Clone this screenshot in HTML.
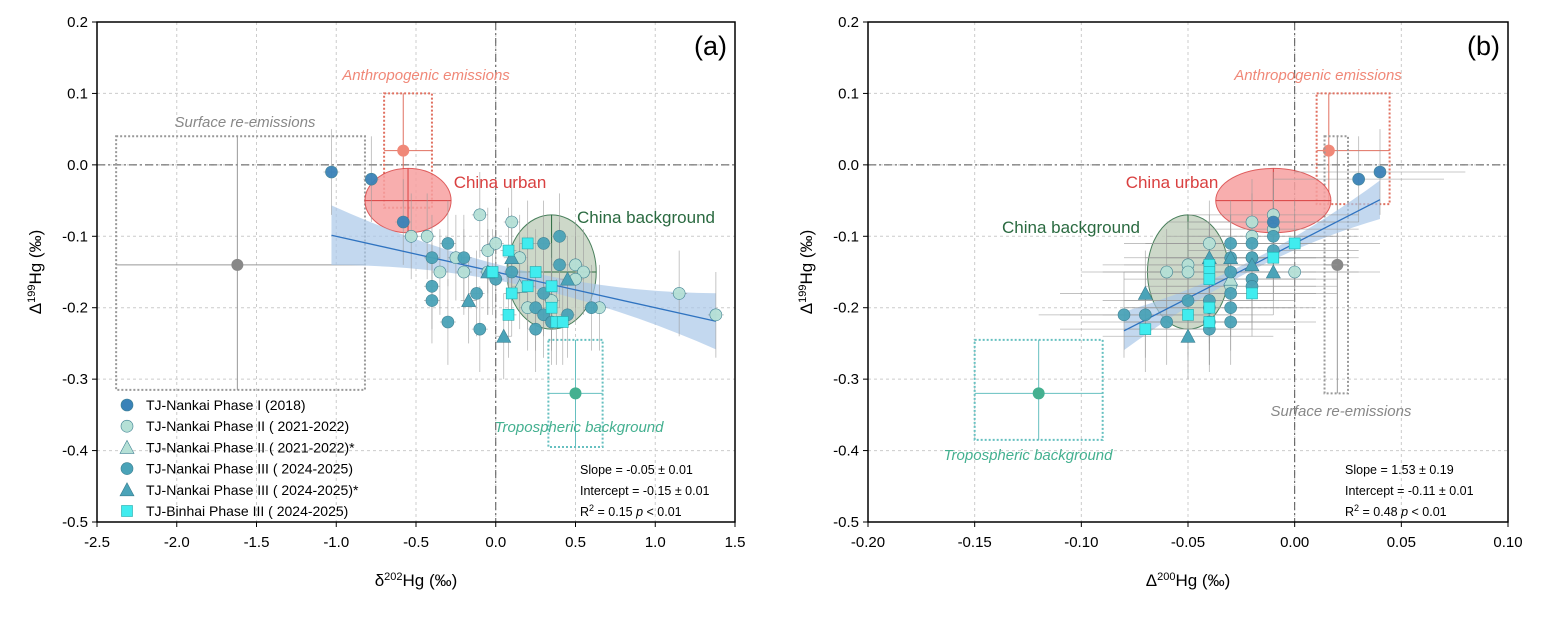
<!DOCTYPE html>
<html><head><meta charset="utf-8"><style>
body{margin:0;background:#fff;}
svg text{font-family:"Liberation Sans",sans-serif;}
</style></head><body>
<svg id="c" width="1544" height="616" xmlns="http://www.w3.org/2000/svg"></svg>
<script>
// ---- Panel (a) data: delta202Hg vs Delta199Hg ----
const aPhase1 = [[-1.03,-0.01],[-0.78,-0.02],[-0.58,-0.08]];
const aPhase2 = [[-0.53,-0.10],[-0.43,-0.10],[-0.10,-0.07],[0.10,-0.08],[-0.35,-0.15],[-0.20,-0.15],[0.15,-0.13],[0.50,-0.14],[0.55,-0.15],[0.50,-0.16],[1.15,-0.18],[1.38,-0.21],[0.65,-0.20],[0.20,-0.20],[0.35,-0.19],[-0.05,-0.12],[0.00,-0.11],[-0.05,-0.15],[-0.25,-0.13]];
const aPhase2T = [[0.15,-0.17]];
const aPhase3 = [[-0.40,-0.13],[-0.30,-0.11],[-0.40,-0.17],[-0.40,-0.19],[-0.30,-0.22],[-0.20,-0.13],[-0.12,-0.18],[-0.10,-0.23],[0.25,-0.20],[0.25,-0.23],[0.30,-0.21],[0.35,-0.22],[0.45,-0.21],[0.40,-0.10],[0.30,-0.11],[0.40,-0.14],[0.60,-0.20],[0.30,-0.18],[0.10,-0.15],[0.00,-0.16]];
const aPhase3T = [[-0.17,-0.19],[0.05,-0.24],[0.45,-0.16],[0.10,-0.13],[-0.05,-0.15]];
const aBinhai = [[0.20,-0.11],[0.08,-0.12],[-0.02,-0.15],[0.25,-0.15],[0.35,-0.17],[0.10,-0.18],[0.35,-0.20],[0.08,-0.21],[0.38,-0.22],[0.42,-0.22],[0.20,-0.17]];
const aFit = [-0.05,-0.15]; const aFitRange=[-1.03,1.38];
const aXTicks=[-2.5,-2.0,-1.5,-1.0,-0.5,0.0,0.5,1.0,1.5];
// ---- Panel (b) data: Delta200Hg vs Delta199Hg ----
const bPhase1 = [[0.04,-0.01],[0.03,-0.02],[-0.01,-0.08]];
const bPhase2 = [[-0.06,-0.15],[-0.05,-0.14],[-0.05,-0.15],[-0.04,-0.11],[-0.02,-0.08],[-0.01,-0.07],[-0.01,-0.09],[0.00,-0.15],[-0.02,-0.10],[-0.03,-0.17],[-0.04,-0.20],[-0.02,-0.13]];
const bPhase2T = [[-0.03,-0.16]];
const bPhase3 = [[-0.08,-0.21],[-0.07,-0.21],[-0.06,-0.22],[-0.05,-0.19],[-0.04,-0.19],[-0.04,-0.23],[-0.03,-0.11],[-0.03,-0.13],[-0.03,-0.15],[-0.03,-0.18],[-0.03,-0.20],[-0.03,-0.22],[-0.02,-0.11],[-0.02,-0.13],[-0.02,-0.16],[-0.02,-0.17],[-0.01,-0.10],[-0.01,-0.12],[-0.04,-0.22]];
const bPhase3T = [[-0.07,-0.18],[-0.05,-0.24],[-0.04,-0.13],[-0.02,-0.14],[-0.01,-0.15],[-0.03,-0.13]];
const bBinhai = [[-0.07,-0.23],[-0.05,-0.21],[-0.04,-0.14],[-0.04,-0.15],[-0.04,-0.16],[-0.04,-0.20],[-0.04,-0.22],[-0.02,-0.18],[-0.01,-0.13],[0.00,-0.11]];
const bFit=[1.53,-0.11]; const bFitRange=[-0.08,0.04];
const bXTicks=[-0.20,-0.15,-0.10,-0.05,0.00,0.05,0.10];
const yTicks=[0.2,0.1,0.0,-0.1,-0.2,-0.3,-0.4,-0.5];

const NS="http://www.w3.org/2000/svg";
const svg=document.getElementById('c');
function el(tag,attrs,parent,text){const e=document.createElementNS(NS,tag);for(const k in attrs)e.setAttribute(k,attrs[k]);if(text!==undefined)e.textContent=text;(parent||svg).appendChild(e);return e;}
const Y0=22,Y1=522,YMAX=0.2,YMIN=-0.5;
function ys(v){return Y0+(YMAX-v)/(YMAX-YMIN)*(Y1-Y0);}
const C1='#3a82b8',C2='#b5e0d6',C3='#4aa3b8',C4='#40ecef';

function panel(cfg){
  const xs=v=>cfg.x0+(v-cfg.xmin)/(cfg.xmax-cfg.xmin)*(cfg.x1-cfg.x0);
  const g=el('g',{});
  
  
  cfg.xt.forEach(t=>{el('line',{x1:xs(t),x2:xs(t),y1:Y0,y2:Y1,stroke:'#ccc','stroke-dasharray':'3,3'},g);});
  yTicks.forEach(t=>{el('line',{x1:cfg.x0,x2:cfg.x1,y1:ys(t),y2:ys(t),stroke:'#ccc','stroke-dasharray':'3,3'},g);});
  el('line',{x1:cfg.x0,x2:cfg.x1,y1:ys(0),y2:ys(0),stroke:'#555','stroke-dasharray':'8,3,2,3'},g);
  el('line',{x1:xs(0),x2:xs(0),y1:Y0,y2:Y1,stroke:'#555','stroke-dasharray':'8,3,2,3'},g);
  cfg.boxes.forEach(b=>{
    const r=el('rect',{x:xs(b.x[0]),y:ys(b.y[1]),width:xs(b.x[1])-xs(b.x[0]),height:ys(b.y[0])-ys(b.y[1]),fill:'none',stroke:b.c,'stroke-width':2,'stroke-dasharray':'2,2'},g);
    
    
    el('line',{x1:xs(b.x[0]),x2:xs(b.x[1]),y1:ys(b.p[1]),y2:ys(b.p[1]),stroke:b.c,'stroke-width':1},g);
    el('line',{x1:xs(b.p[0]),x2:xs(b.p[0]),y1:ys(b.y[0]),y2:ys(b.y[1]),stroke:b.c,'stroke-width':1},g);
    const c=el('circle',{cx:xs(b.p[0]),cy:ys(b.p[1]),r:6,fill:b.f},g);
    
    
    const t=el('text',{x:b.tx,y:b.ty,fill:b.f,'font-size':15,'font-style':'italic','text-anchor':'middle'},g,b.label);
    
    
  });
  cfg.ells.forEach(e=>{
    const rx=xs(e.c[0]+e.r[0])-xs(e.c[0]), ry=ys(e.c[1]-e.r[1])-ys(e.c[1]);
    const E=el('ellipse',{cx:xs(e.c[0]),cy:ys(e.c[1]),rx:rx,ry:ry,fill:e.f,stroke:e.s,'stroke-width':1,opacity:0.85},g);
    
    
    el('line',{x1:xs(e.c[0])-rx,x2:xs(e.c[0])+rx,y1:ys(e.c[1]),y2:ys(e.c[1]),stroke:e.s},g);
    el('line',{x1:xs(e.c[0]),x2:xs(e.c[0]),y1:ys(e.c[1])-ry,y2:ys(e.c[1])+ry,stroke:e.s},g);
    const t=el('text',{x:e.tx,y:e.ty,fill:e.s,'font-size':17,'text-anchor':'middle'},g,e.label);
    
    
  });
  const [m,b]=cfg.fit,[a0,a1]=cfg.fr,w=(a1-a0);
  const pts=[];
  for(let i=0;i<=20;i++){const x=a0+w*i/20;const d=cfg.bw*(0.35+Math.pow((x-cfg.mid)/(w/2),2));pts.push([xs(x),ys(m*x+b+d)]);}
  for(let i=20;i>=0;i--){const x=a0+w*i/20;const d=cfg.bw*(0.35+Math.pow((x-cfg.mid)/(w/2),2));pts.push([xs(x),ys(m*x+b-d)]);}
  const band=el('polygon',{points:pts.map(p=>p.join(',')).join(' '),fill:'#a9c8e8',opacity:0.7},g);
  
  
  const series=[[cfg.s2,C2,'c','phase2'],[cfg.s2t,C2,'t','phase2-tri'],[cfg.s3,C3,'c','phase3'],[cfg.s3t,C3,'t','phase3-tri'],[cfg.s4,C4,'s','binhai'],[cfg.s1,C1,'c','phase1']];
  series.forEach(([arr])=>arr.forEach(p=>{
    el('line',{x1:xs(p[0]-cfg.ex),x2:xs(p[0]+cfg.ex),y1:ys(p[1]),y2:ys(p[1]),stroke:'#999','stroke-width':0.8,opacity:0.7},g);
    el('line',{x1:xs(p[0]),x2:xs(p[0]),y1:ys(p[1]-0.06),y2:ys(p[1]+0.06),stroke:'#999','stroke-width':0.8,opacity:0.7},g);
  }));
  const fl=el('line',{x1:xs(a0),y1:ys(m*a0+b),x2:xs(a1),y2:ys(m*a1+b),stroke:'#2f73c0','stroke-width':1.3},g);
  
  
  series.forEach(([arr,col,sh,nm])=>arr.forEach(p=>{
    const X=xs(p[0]),Yv=ys(p[1]);let mk;
    if(sh==='c')mk=el('circle',{cx:X,cy:Yv,r:6,fill:col,stroke:'#3b7f90','stroke-width':0.6,opacity:0.95},g);
    else if(sh==='t')mk=el('polygon',{points:`${X},${Yv-7} ${X-7},${Yv+6} ${X+7},${Yv+6}`,fill:col,stroke:'#3b7f90','stroke-width':0.6},g);
    else mk=el('rect',{x:X-5.5,y:Yv-5.5,width:11,height:11,fill:col,stroke:'#2aa',"stroke-width":0.6},g);
    
    
  }));
  el('rect',{x:cfg.x0,y:Y0,width:cfg.x1-cfg.x0,height:Y1-Y0,fill:'none',stroke:'#000','stroke-width':1.5},g);
  cfg.xt.forEach(t=>{el('line',{x1:xs(t),x2:xs(t),y1:Y1,y2:Y1+5,stroke:'#000'},g);
    const tl=el('text',{x:xs(t),y:Y1+25,'font-size':15,'text-anchor':'middle'},g,t.toFixed(cfg.dec));
    
    });
  yTicks.forEach(t=>{el('line',{x1:cfg.x0-5,x2:cfg.x0,y1:ys(t),y2:ys(t),stroke:'#000'},g);
    const tl=el('text',{x:cfg.x0-9,y:ys(t)+5,'font-size':15,'text-anchor':'end'},g,t.toFixed(1));
    
    });
  const xt=el('text',{x:(cfg.x0+cfg.x1)/2,y:586,'font-size':17,'text-anchor':'middle'},g);
  
  
  xt.innerHTML=cfg.xlab;
  const yt=el('text',{x:0,y:0,'font-size':17,'text-anchor':'middle',transform:`translate(${cfg.x0-56},272) rotate(-90)`},g);
  
  
  yt.innerHTML='Δ<tspan baseline-shift="super" font-size="11">199</tspan>Hg (‰)';
  const pl=el('text',{x:cfg.x1-8,y:55,'font-size':27,'text-anchor':'end'},g,cfg.tag);
  
  
  cfg.stats.forEach((s,i)=>{const t=el('text',{x:cfg.sx,y:474+i*21,'font-size':12.5},g);t.innerHTML=s;
    
    });
}

panel({name:'panel-a',x0:97,x1:735,xmin:-2.5,xmax:1.5,xt:aXTicks,dec:1,tag:'(a)',
  s1:aPhase1,s2:aPhase2,s2t:aPhase2T,s3:aPhase3,s3t:aPhase3T,s4:aBinhai,fit:aFit,fr:aFitRange,bw:0.03,mid:0.2,ex:0.05,
  boxes:[
    {n:'anthropogenic',x:[-0.7,-0.4],y:[-0.06,0.10],p:[-0.58,0.02],c:'#e07060',f:'#f08878',label:'Anthropogenic emissions',tx:426,ty:80},
    {n:'surface-reemissions',x:[-2.38,-0.82],y:[-0.315,0.04],p:[-1.62,-0.14],c:'#999',f:'#888',label:'Surface re-emissions',tx:245,ty:127},
    {n:'tropospheric',x:[0.33,0.67],y:[-0.395,-0.245],p:[0.5,-0.32],c:'#66c0c0',f:'#44b090',label:'Tropospheric background',tx:579,ty:432}],
  ells:[{n:'china-urban',c:[-0.55,-0.05],r:[0.27,0.045],f:'#f7a0a0',s:'#d94040',label:'China urban',tx:500,ty:188},
        {n:'china-background',c:[0.35,-0.15],r:[0.28,0.08],f:'#c5d2c0',s:'#2a6a40',label:'China background',tx:646,ty:223}],
  xlab:'δ<tspan baseline-shift="super" font-size="11">202</tspan>Hg (‰)',sx:580,
  stats:['Slope = -0.05 ± 0.01','Intercept = -0.15 ± 0.01','R<tspan baseline-shift="super" font-size="9">2</tspan> = 0.15  <tspan font-style="italic">p</tspan> &lt; 0.01']});

panel({name:'panel-b',x0:868,x1:1508,xmin:-0.2,xmax:0.1,xt:bXTicks,dec:2,tag:'(b)',
  s1:bPhase1,s2:bPhase2,s2t:bPhase2T,s3:bPhase3,s3t:bPhase3T,s4:bBinhai,fit:bFit,fr:bFitRange,bw:0.02,mid:-0.02,ex:0.04,
  boxes:[
    {n:'anthropogenic',x:[0.0103,0.0445],y:[-0.055,0.10],p:[0.016,0.02],c:'#e07060',f:'#f08878',label:'Anthropogenic emissions',tx:1318,ty:80},
    {n:'surface-reemissions',x:[0.014,0.025],y:[-0.32,0.04],p:[0.02,-0.14],c:'#999',f:'#888',label:'Surface re-emissions',tx:1341,ty:416},
    {n:'tropospheric',x:[-0.15,-0.09],y:[-0.385,-0.245],p:[-0.12,-0.32],c:'#66c0c0',f:'#44b090',label:'Tropospheric background',tx:1028,ty:460}],
  ells:[{n:'china-urban',c:[-0.01,-0.05],r:[0.027,0.045],f:'#f7a0a0',s:'#d94040',label:'China urban',tx:1172,ty:188},
        {n:'china-background',c:[-0.05,-0.15],r:[0.019,0.08],f:'#c5d2c0',s:'#2a6a40',label:'China background',tx:1071,ty:233}],
  xlab:'Δ<tspan baseline-shift="super" font-size="11">200</tspan>Hg (‰)',sx:1345,
  stats:['Slope = 1.53 ± 0.19','Intercept = -0.11 ± 0.01','R<tspan baseline-shift="super" font-size="9">2</tspan> = 0.48  <tspan font-style="italic">p</tspan> &lt; 0.01']});

const legItems=[['c',C1,'TJ-Nankai Phase I (2018)'],['c',C2,'TJ-Nankai Phase II ( 2021-2022)'],['t',C2,'TJ-Nankai Phase II ( 2021-2022)*'],['c',C3,'TJ-Nankai Phase III ( 2024-2025)'],['t',C3,'TJ-Nankai Phase III ( 2024-2025)*'],['s',C4,'TJ-Binhai Phase III ( 2024-2025)']];
const lg=el('g',{});


legItems.forEach((it,i)=>{
  const y=405+i*21.2,x=127;
  const e=el('g',{},lg);
  
  
  if(it[0]==='c')el('circle',{cx:x,cy:y,r:6,fill:it[1],stroke:'#3b7f90','stroke-width':0.6},e);
  else if(it[0]==='t')el('polygon',{points:`${x},${y-7} ${x-7},${y+6} ${x+7},${y+6}`,fill:it[1],stroke:'#3b7f90','stroke-width':0.6},e);
  else el('rect',{x:x-5.5,y:y-5.5,width:11,height:11,fill:it[1],stroke:'#2aa','stroke-width':0.6},e);
  el('text',{x:146,y:y+5,'font-size':14},e,it[2]);
});
</script>
</body></html>
